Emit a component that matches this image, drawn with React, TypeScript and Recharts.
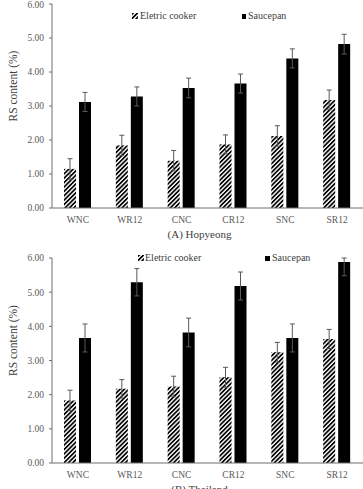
import { BarChart, Bar, XAxis, YAxis, ErrorBar, Legend } from 'recharts';

// categories and tick values shared by both panels
const categories = ['WNC', 'WR12', 'CNC', 'CR12', 'SNC', 'SR12'];
const yTicks = [0, 1, 2, 3, 4, 5, 6];
const Y_MAX = 6;

// (A) Hopyeong
const hopElectric = [1.15, 1.84, 1.39, 1.87, 2.12, 3.18];
const hopElectricErr = [0.3, 0.3, 0.3, 0.28, 0.3, 0.29];
const hopSaucepan = [3.12, 3.28, 3.53, 3.66, 4.4, 4.82];
const hopSaucepanErr = [0.28, 0.28, 0.29, 0.28, 0.28, 0.29];

// (B) Thailand
const thaElectric = [1.83, 2.17, 2.24, 2.51, 3.24, 3.63];
const thaElectricErr = [0.3, 0.27, 0.3, 0.29, 0.29, 0.28];
const thaSaucepan = [3.66, 5.29, 3.82, 5.18, 3.66, 5.88];
const thaSaucepanErr = [0.41, 0.4, 0.42, 0.41, 0.41, 0.4];

const FONT = '"Liberation Serif", "Times New Roman", serif';
const AXIS = '#6e6e6e';
const TEXT = '#595959';

interface Row {
  name: string;
  electric: number;
  electricErr: number[];
  saucepan: number;
  saucepanErr: number[];
}

// whiskers are cut at the top of the axis, like the plot area clips them
const clipErr = (v: number, err: number) => [err, Math.min(err, Y_MAX - v)];

const buildRows = (e: number[], eErr: number[], s: number[], sErr: number[]): Row[] =>
  categories.map((name, i) => ({
    name,
    electric: e[i],
    electricErr: clipErr(e[i], eErr[i]),
    saucepan: s[i],
    saucepanErr: clipErr(s[i], sErr[i]),
  }));

interface LegendPos {
  top: number;
  iconX: number;
  textX: number;
  squareX: number;
  squareTextX: number;
}

const LegendBox = ({ pos, id }: { pos: LegendPos; id: string }) => (
  <div style={{ position: 'relative', width: 363, height: 14, fontFamily: FONT, fontSize: 10, color: '#404040' }}>
    <svg style={{ position: 'absolute', left: pos.iconX, top: 4 }} width={6} height={6}>
      <rect x={0} y={0} width={6} height={6} fill={`url(#${id})`} />
    </svg>
    <span style={{ position: 'absolute', left: pos.textX, top: 0, lineHeight: '14px', whiteSpace: 'nowrap' }}>
      Eletric cooker
    </span>
    <div style={{ position: 'absolute', left: pos.squareX, top: 5, width: 4.5, height: 4.5, background: '#000' }} />
    <span style={{ position: 'absolute', left: pos.squareTextX, top: 0, lineHeight: '14px', whiteSpace: 'nowrap' }}>
      Saucepan
    </span>
  </div>
);

interface PanelProps {
  id: string;
  rows: Row[];
  height: number;
  top: number;
  bottom: number;
  title: string;
  titleOffset: number;
  labelShift: number;
  legend: LegendPos;
}

const Panel = ({ id, rows, height, top, bottom, title, titleOffset, labelShift, legend }: PanelProps) => (
  <BarChart
    width={363}
    height={height}
    data={rows}
    margin={{ top, right: 0, bottom: 0, left: 0 }}
    barCategoryGap={12}
    barGap={3}
  >
    <defs>
      <pattern id={id} patternUnits="userSpaceOnUse" width={3.1} height={3.1} patternTransform="rotate(45)">
        <rect x={0} y={0} width={3.1} height={3.1} fill="#fff" />
        <rect x={0} y={0} width={1.7} height={3.1} fill="#000" />
      </pattern>
    </defs>
    <XAxis
      dataKey="name"
      height={bottom}
      tickLine={false}
      tickSize={0}
      tickMargin={8}
      stroke={AXIS}
      tick={{ fill: TEXT, fontSize: 9.5, fontFamily: FONT }}
      label={{
        value: title,
        position: 'insideBottom',
        offset: titleOffset,
        dx: -8,
        fill: '#404040',
        fontSize: 11,
        fontFamily: FONT,
      }}
    />
    <YAxis
      width={52}
      domain={[0, Y_MAX]}
      ticks={yTicks}
      allowDataOverflow
      tickFormatter={(v: number) => v.toFixed(2)}
      tickSize={3}
      tickMargin={5}
      stroke={AXIS}
      tick={{ fill: TEXT, fontSize: 9.5, fontFamily: FONT }}
      label={{
        content: ({ viewBox }: any) => {
          const cy = viewBox.y + viewBox.height / 2 + labelShift;
          return (
            <text
              x={13}
              y={cy}
              transform={`rotate(-90, 13, ${cy})`}
              textAnchor="middle"
              dominantBaseline="central"
              fill="#404040"
              fontSize={11.5}
              fontFamily={FONT}
            >
              RS content (%)
            </text>
          );
        },
      }}
    />
    <Legend
      layout="vertical"
      align="center"
      verticalAlign="middle"
      wrapperStyle={{ left: 0, top: legend.top, width: 363 }}
      content={() => <LegendBox pos={legend} id={id} />}
    />
    <Bar dataKey="electric" name="Eletric cooker" fill={`url(#${id})`} barSize={12} isAnimationActive={false}>
      <ErrorBar dataKey="electricErr" width={2.5} stroke="#595959" strokeWidth={1} direction="y" />
    </Bar>
    <Bar dataKey="saucepan" name="Saucepan" fill="#000" barSize={12} isAnimationActive={false}>
      <ErrorBar dataKey="saucepanErr" width={2.5} stroke="#595959" strokeWidth={1} direction="y" />
    </Bar>
  </BarChart>
);

export default function App() {
  const hopRows = buildRows(hopElectric, hopElectricErr, hopSaucepan, hopSaucepanErr);
  const thaRows = buildRows(thaElectric, thaElectricErr, thaSaucepan, thaSaucepanErr);
  return (
    <div style={{ position: 'absolute', left: 0, top: 0, width: 363, height: 489, overflow: 'hidden', background: '#fff' }}>
      <div style={{ position: 'absolute', left: 0, top: 0 }}>
        <Panel
          id="hatchA"
          rows={hopRows}
          height={245}
          top={4}
          bottom={37}
          title="(A) Hopyeong"
          titleOffset={7}
          labelShift={-20}
          legend={{ top: 9, iconX: 132, textX: 140, squareX: 241.5, squareTextX: 248 }}
        />
      </div>
      <div style={{ position: 'absolute', left: 0, top: 245 }}>
        <Panel
          id="hatchB"
          rows={thaRows}
          height={250}
          top={13}
          bottom={32}
          title="(B) Thailand"
          titleOffset={2.5}
          labelShift={-20}
          legend={{ top: 6, iconX: 138, textX: 145, squareX: 265, squareTextX: 272 }}
        />
      </div>
    </div>
  );
}
